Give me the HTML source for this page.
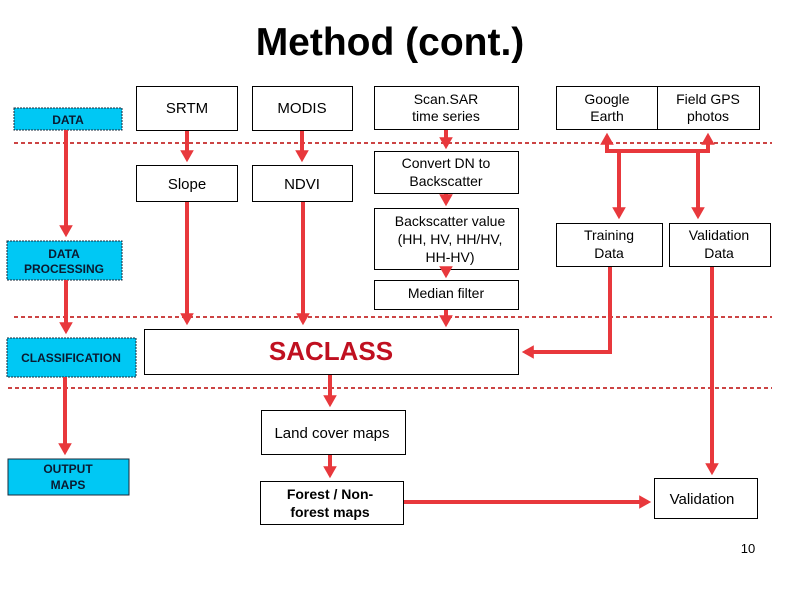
<!DOCTYPE html>
<html><head><meta charset="utf-8"><style>
html,body{margin:0;padding:0;background:#fff;}
svg{display:block;font-family:"Liberation Sans",Arial,sans-serif;}
</style></head><body>
<svg width="794" height="595" viewBox="0 0 794 595" xmlns="http://www.w3.org/2000/svg">
<defs>
<marker id="ah" markerWidth="4" markerHeight="4" refX="2.2" refY="2" orient="auto" markerUnits="strokeWidth">
<path d="M0,0.3 L3,2 L0,3.7 Z" fill="#e8383c"/>
</marker>
</defs>
<text x="390" y="55" font-size="39" font-weight="bold" text-anchor="middle" fill="#000">Method (cont.)</text>

<g stroke="#cc4444" stroke-width="2" stroke-dasharray="4,3">
<line x1="14" y1="143" x2="772" y2="143"/>
<line x1="14" y1="317" x2="772" y2="317"/>
<line x1="8" y1="388" x2="772" y2="388"/>
</g>

<g fill="#00c8f4" stroke="#1a2a3a" stroke-width="1" stroke-dasharray="2,1">
<rect x="14" y="108" width="108" height="22"/>
<rect x="7" y="241" width="115" height="39"/>
<rect x="7" y="338" width="129" height="39"/>
</g>
<rect x="8" y="459" width="121" height="36" fill="#00c8f4" stroke="#1a2a3a" stroke-width="1"/>
<g font-size="12" font-weight="bold" fill="#0a1a30" text-anchor="middle">
<text x="68" y="124">DATA</text>
<text x="64" y="258">DATA</text>
<text x="64" y="273">PROCESSING</text>
<text x="71" y="362">CLASSIFICATION</text>
<text x="68" y="473">OUTPUT</text>
<text x="68" y="489">MAPS</text>
</g>

<g fill="#fff" stroke="#000" stroke-width="1">
<rect x="136.5" y="86.5" width="101" height="44"/>
<rect x="252.5" y="86.5" width="100" height="44"/>
<rect x="374.5" y="86.5" width="144" height="43"/>
<rect x="556.5" y="86.5" width="203" height="43"/>
<line x1="657.5" y1="86" x2="657.5" y2="130"/>
<rect x="136.5" y="165.5" width="101" height="36"/>
<rect x="252.5" y="165.5" width="100" height="36"/>
<rect x="374.5" y="151.5" width="144" height="42"/>
<rect x="374.5" y="208.5" width="144" height="61"/>
<rect x="374.5" y="280.5" width="144" height="29"/>
<rect x="556.5" y="223.5" width="106" height="43"/>
<rect x="669.5" y="223.5" width="101" height="43"/>
<rect x="144.5" y="329.5" width="374" height="45"/>
<rect x="261.5" y="410.5" width="144" height="44"/>
<rect x="260.5" y="481.5" width="143" height="43"/>
<rect x="654.5" y="478.5" width="103" height="40"/>
</g>

<g font-size="15" fill="#000" text-anchor="middle">
<text x="187" y="113">SRTM</text>
<text x="302" y="113">MODIS</text>
<text x="187" y="189">Slope</text>
<text x="302" y="189">NDVI</text>
</g>
<g font-size="14" fill="#000" text-anchor="middle" font-weight="bold">
<text x="446" y="104" font-weight="normal">Scan.SAR</text>
<text x="446" y="121" font-weight="normal">time series</text>
<text x="607" y="104" font-weight="normal">Google</text>
<text x="607" y="121" font-weight="normal">Earth</text>
<text x="708" y="104" font-weight="normal">Field GPS</text>
<text x="708" y="121" font-weight="normal">photos</text>
<text x="330" y="499">Forest / Non-</text>
<text x="330" y="517">forest maps</text>
</g>
<g font-size="14" fill="#000" text-anchor="middle">
<text x="446" y="168">Convert DN to</text>
<text x="446" y="186">Backscatter</text>
<text x="450" y="226">Backscatter value</text>
<text x="450" y="244">(HH, HV, HH/HV,</text>
<text x="450" y="262">HH-HV)</text>
<text x="446" y="298">Median filter</text>
<text x="609" y="240">Training</text>
<text x="609" y="258">Data</text>
<text x="719" y="240">Validation</text>
<text x="719" y="258">Data</text>
<text x="332" y="438" font-size="15">Land cover maps</text>
<text x="702" y="504" font-size="15">Validation</text>
<text x="748" y="553" font-size="13">10</text>
</g>
<text x="331" y="360" font-size="26" font-weight="bold" fill="#c01020" text-anchor="middle">SACLASS</text>

<g stroke="#e8383c" stroke-width="4" fill="none" marker-end="url(#ah)">
<line x1="66" y1="130" x2="66" y2="234"/>
<line x1="66" y1="280" x2="66" y2="331"/>
<line x1="65" y1="377" x2="65" y2="452"/>
<line x1="187" y1="131" x2="187" y2="159"/>
<line x1="302" y1="131" x2="302" y2="159"/>
<line x1="187" y1="202" x2="187" y2="322"/>
<line x1="303" y1="202" x2="303" y2="322"/>
<line x1="446" y1="130" x2="446" y2="146"/>
<line x1="446" y1="194" x2="446" y2="203"/>
<line x1="446" y1="270" x2="446" y2="275"/>
<line x1="446" y1="310" x2="446" y2="324"/>
<line x1="330" y1="375" x2="330" y2="404"/>
<line x1="330" y1="455" x2="330" y2="475"/>
<line x1="404" y1="502" x2="648" y2="502"/>
<polyline points="610,267 610,352 525,352"/>
<line x1="712" y1="267" x2="712" y2="472"/>
<line x1="607" y1="151" x2="607" y2="136"/>
<line x1="708" y1="151" x2="708" y2="136"/>
<line x1="619" y1="151" x2="619" y2="216"/>
<line x1="698" y1="151" x2="698" y2="216"/>
</g>
<line x1="605" y1="151" x2="710" y2="151" stroke="#e8383c" stroke-width="4"/>
</svg>
</body></html>
